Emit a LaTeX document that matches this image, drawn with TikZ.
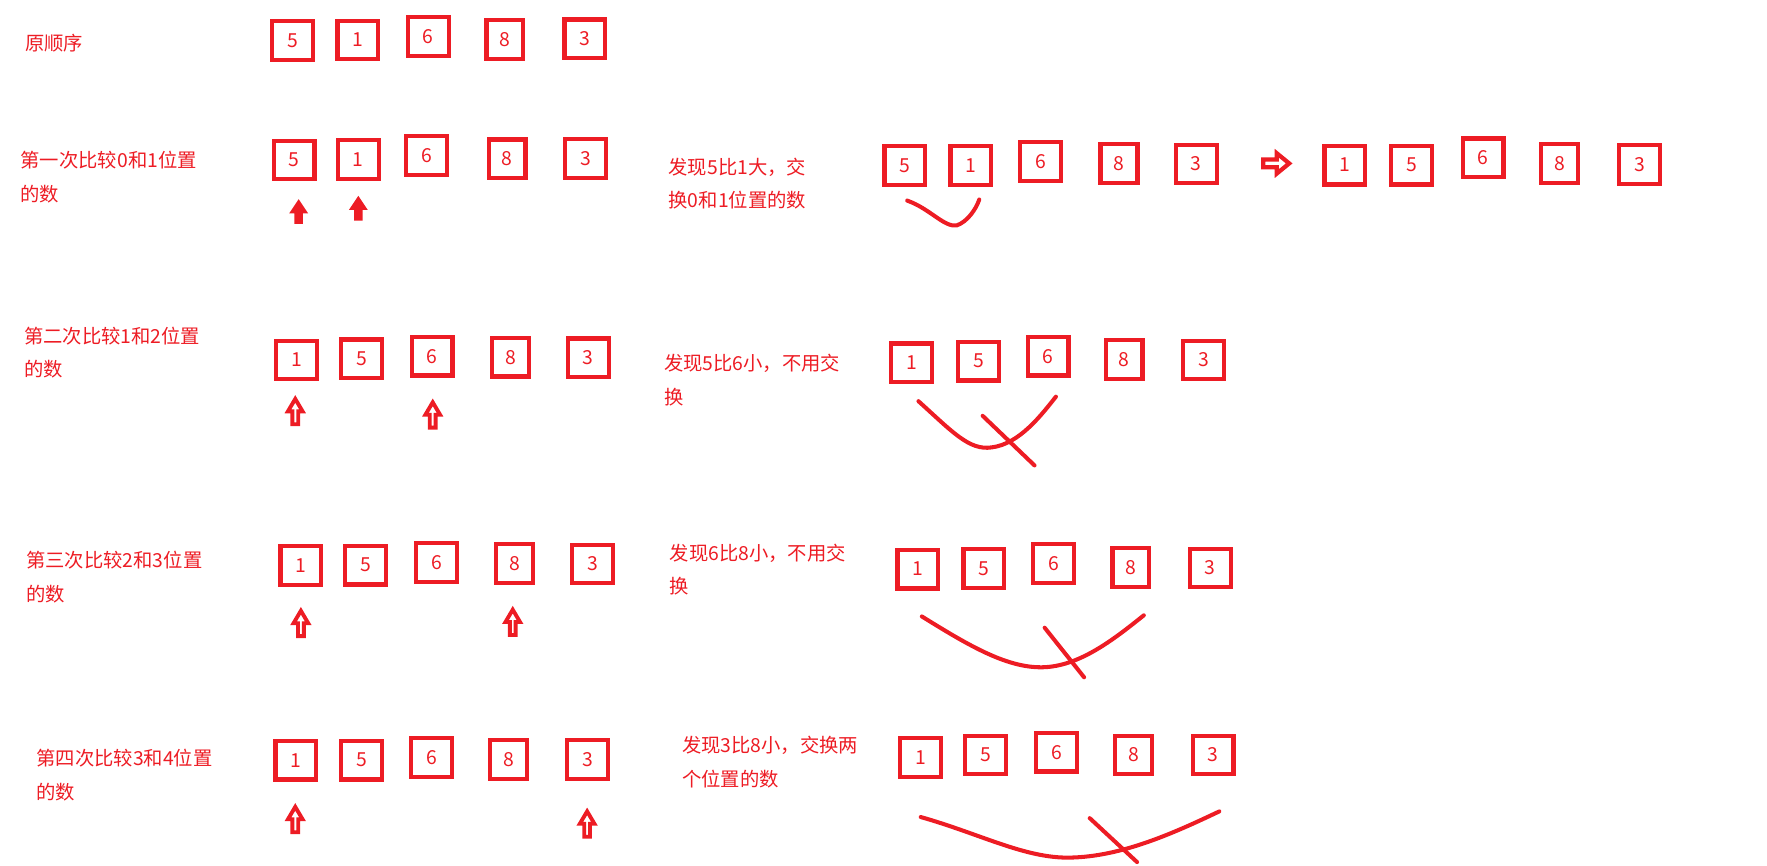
\documentclass[tikz,border=0pt]{standalone}
\usepackage{fontspec}
\setmainfont{Noto Sans CJK SC}
\definecolor{pred}{RGB}{237,28,36}
\begin{document}
\begin{tikzpicture}[x=0.02254cm,y=-0.02254cm,
  every node/.style={font=\fontsize{11pt}{19.2pt}\selectfont, text=pred},
  numbox/.style={draw=pred, line width=2.4pt, minimum width=23.2pt, minimum height=22pt, inner sep=0pt},
  nb8/.style={numbox, minimum width=21pt},
  lbl/.style={anchor=west, align=left, inner sep=0pt},
  stroke/.style={draw=pred, line width=2.3pt, line cap=round, line join=round},
  pics/uparr/.style={code={\draw[pred, line width=2.2pt, fill=white, line join=miter]
     (-2.6,-1.5) -- (-2.6,-13) -- (-6.5,-13) -- (0,-24) -- (6.5,-13) -- (2.6,-13) -- (2.6,-1.5) -- cycle;}},
  pics/uparrf/.style={code={\draw[pred, line width=1.6pt, fill=pred, line join=miter]
     (-2.6,-1.5) -- (-2.6,-11) -- (-6,-11) -- (0,-20) -- (6,-11) -- (2.6,-11) -- (2.6,-1.5) -- cycle;}}]
\useasboundingbox (0,0) rectangle (1568,768);
% labels
\node[lbl] (t0) at (22,38) {原顺序};
\node[lbl] (t1) at (18,157) {第一次比较0和1位置\\的数};
\node[lbl] (d1) at (593,163) {发现5比1大，交\\换0和1位置的数};
\node[lbl] (t2) at (21,313) {第二次比较1和2位置\\的数};
\node[lbl] (d2) at (589,337.5) {发现5比6小，不用交\\换};
\node[lbl] (t3) at (23,512) {第三次比较2和3位置\\的数};
\node[lbl] (d3) at (594,505.5) {发现6比8小，不用交\\换};
\node[lbl] (t4) at (32,688) {第四次比较3和4位置\\的数};
\node[lbl] (d4) at (605,676.5) {发现3比8小，交换两\\个位置的数};
% row 0
\node[numbox] (r0a) at (259.5,36) {5};
\node[numbox] (r0b) at (317.5,35.5) {1};
\node[numbox] (r0c) at (380,32.5) {6};
\node[nb8] (r0d) at (448,35) {8};
\node[numbox] (r0e) at (519,34.5) {3};
% row 1
\node[numbox] (r1a) at (261,142) {5};
\node[numbox] (r1b) at (318,141.5) {1};
\node[numbox] (r1c) at (378.5,138) {6};
\node[nb8] (r1d) at (450,141) {8};
\node[numbox] (r1e) at (519.5,140.5) {3};
\node[numbox] (m1a) at (803,147) {5};
\node[numbox] (m1b) at (861.5,147) {1};
\node[numbox] (m1c) at (923.5,143.5) {6};
\node[nb8] (m1d) at (993,145) {8};
\node[numbox] (m1e) at (1061.5,145.5) {3};
\node[numbox] (s1a) at (1193.5,146.5) {1};
\node[numbox] (s1b) at (1252.5,146.5) {5};
\node[numbox] (s1c) at (1316,140) {6};
\node[nb8] (s1d) at (1384,145) {8};
\node[numbox] (s1e) at (1455,146) {3};
% row 2
\node[numbox] (r2a) at (263,319.5) {1};
\node[numbox] (r2b) at (321,318.5) {5};
\node[numbox] (r2c) at (383.5,316) {6};
\node[nb8] (r2d) at (453,317) {8};
\node[numbox] (r2e) at (522,317.5) {3};
\node[numbox] (m2a) at (809,322) {1};
\node[numbox] (m2b) at (868.5,320.5) {5};
\node[numbox] (m2c) at (930,316) {6};
\node[nb8] (m2d) at (997.5,319) {8};
\node[numbox] (m2e) at (1068,319.5) {3};
% row 3
\node[numbox] (r3a) at (267,502) {1};
\node[numbox] (r3b) at (324.5,501.5) {5};
\node[numbox] (r3c) at (387.5,499) {6};
\node[nb8] (r3d) at (456.5,500) {8};
\node[numbox] (r3e) at (526,500.5) {3};
\node[numbox] (m3a) at (814.5,505) {1};
\node[numbox] (m3b) at (873,504.5) {5};
\node[numbox] (m3c) at (935,500) {6};
\node[nb8] (m3d) at (1003.5,503.5) {8};
\node[numbox] (m3e) at (1074,504) {3};
% row 4
\node[numbox] (r4a) at (262.5,674.5) {1};
\node[numbox] (r4b) at (321,674.5) {5};
\node[numbox] (r4c) at (383,672) {6};
\node[nb8] (r4d) at (451.5,674) {8};
\node[numbox] (r4e) at (521.5,674) {3};
\node[numbox] (m4a) at (817,672) {1};
\node[numbox] (m4b) at (874.5,670) {5};
\node[numbox] (m4c) at (937.5,667.5) {6};
\node[nb8] (m4d) at (1006,670) {8};
\node[numbox] (m4e) at (1076.5,670) {3};
% up arrows
\pic at (265,199) {uparrf};
\pic at (318,196) {uparrf};
\pic at (262,378) {uparr};
\pic at (384,381) {uparr};
\pic at (267,566) {uparr};
\pic at (455,565) {uparr};
\pic at (262,740) {uparr};
\pic at (521,744) {uparr};
% right arrow
\draw[pred, line width=2.4pt, fill=white, line join=miter]
  (1121,141.5) -- (1133,141.5) -- (1133,136) -- (1144,145) -- (1133,154) -- (1133,148.5) -- (1121,148.5) -- cycle;
% swooshes
\draw[stroke] (805,178) .. controls (825,185) and (838,202) .. (849,200) .. controls (858,197) and (866,186) .. (869,177);
\draw[stroke] (815,356) .. controls (845,383) and (860,400) .. (880,397) .. controls (905,394) and (925,367) .. (937,352);
\draw[stroke] (872,369) -- (918,413);
\draw[stroke] (818,547) .. controls (860,573) and (895,594) .. (928,592) .. controls (960,590) and (990,566) .. (1015,546);
\draw[stroke] (927,557) -- (962,601);
\draw[stroke] (817,725) .. controls (870,740) and (910,762) .. (950,761) .. controls (995,760) and (1040,740) .. (1082,720);
\draw[stroke] (967,726) -- (1009,765);
\end{tikzpicture}
\end{document}
